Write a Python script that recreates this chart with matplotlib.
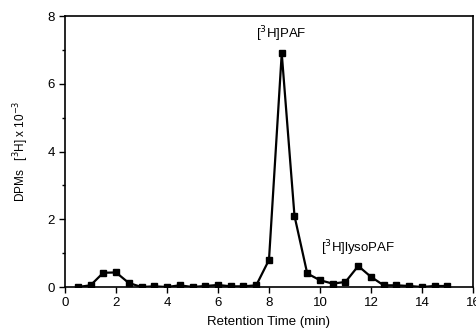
import matplotlib
matplotlib.use("Agg")
import matplotlib.pyplot as plt
from matplotlib.ticker import MultipleLocator

plt.rcParams['font.family'] = ['Liberation Sans', 'DejaVu Sans']

# Retention time (min) and DPMs x 10^-3
time = [0.5, 1.0, 1.5, 2.0, 2.5, 3.0, 3.5, 4.0, 4.5, 5.0, 5.5, 6.0, 6.5, 7.0, 7.5,
        8.0, 8.5, 9.0, 9.5, 10.0, 10.5, 11.0, 11.5, 12.0, 12.5, 13.0, 13.5, 14.0,
        14.5, 15.0]
dpm = [0.0, 0.05, 0.42, 0.43, 0.12, 0.0, 0.02, 0.0, 0.05, 0.0, 0.03, 0.06, 0.02,
       0.02, 0.05, 0.8, 6.9, 2.1, 0.4, 0.2, 0.1, 0.15, 0.62, 0.3, 0.05, 0.05,
       0.03, 0.0, 0.03, 0.03]

fig = plt.figure(figsize=(4.76, 3.34), dpi=100)
ax = fig.add_axes([0.1366, 0.1407, 0.857, 0.8113])

ax.plot(time, dpm, color='black', linewidth=1.6, marker='s', markersize=4)

ax.text(8.5, 7.45, r'[$^3$H]PAF', ha='center', va='center', fontsize=9.5)
ax.text(11.5, 1.15, r'[$^3$H]lysoPAF', ha='center', va='center', fontsize=9.5)

ax.set_xlim(0, 16)
ax.set_ylim(0, 8)
ax.xaxis.set_major_locator(MultipleLocator(2))
ax.yaxis.set_major_locator(MultipleLocator(2))
ax.yaxis.set_minor_locator(MultipleLocator(1))
ax.tick_params(which='major', direction='out', length=4, width=1, labelsize=9.5)
ax.tick_params(which='minor', direction='out', length=2, width=1)
for s in ax.spines.values():
    s.set_linewidth(1.2)

ax.set_xlabel('Retention Time (min)', fontsize=9.5, labelpad=5)
ax.set_ylabel(r'DPMs   [$^3$H] x 10$^{-3}$', fontsize=8.5, labelpad=12)

plt.savefig('out.png', dpi=100)
